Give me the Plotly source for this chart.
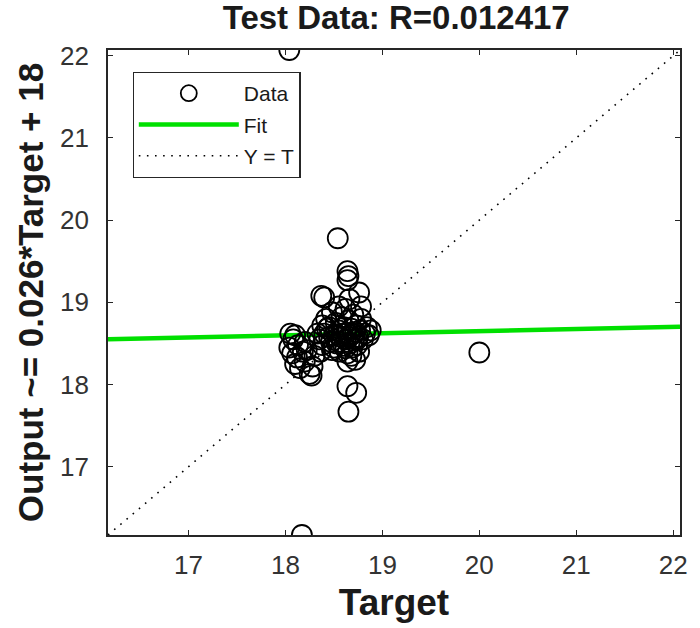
import plotly.graph_objects as go

# Network outputs against targets for the test set
target = [
    18.04, 18.17, 20.00,
    18.54, 18.64, 18.65, 18.64, 18.40, 18.37, 18.76, 18.66,
    18.64, 18.73, 18.65, 18.27, 18.64,
    18.05, 18.08, 18.10, 18.04, 18.07, 18.12, 18.10, 18.15,
    18.20, 18.18, 18.13, 18.22, 18.25, 18.28, 18.30, 18.20,
    18.35, 18.38, 18.40, 18.42, 18.45, 18.47, 18.48, 18.50,
    18.52, 18.53, 18.55, 18.56, 18.57, 18.58, 18.60, 18.60,
    18.62, 18.63, 18.64, 18.65, 18.66, 18.67, 18.68, 18.69,
    18.70, 18.71, 18.72, 18.73, 18.74, 18.75, 18.76, 18.77,
    18.78, 18.80, 18.82, 18.84, 18.86, 18.88, 18.45, 18.50,
    18.55, 18.58, 18.62, 18.66, 18.70, 18.74, 18.68, 18.72,
    18.43, 18.38, 18.33, 18.36, 18.62, 18.78, 18.48, 18.55,
]
output = [
    22.07, 16.17, 18.39,
    19.78, 19.38, 19.32, 19.27, 19.06, 19.08, 19.12, 19.04,
    17.98, 17.90, 17.67, 18.11, 18.28,
    18.62, 18.55, 18.60, 18.45, 18.38, 18.33, 18.25, 18.20,
    18.28, 18.40, 18.48, 18.42, 18.13, 18.22, 18.35, 18.52,
    18.55, 18.48, 18.62, 18.80, 18.70, 18.52, 18.42, 18.60,
    18.75, 18.50, 18.66, 18.40, 18.58, 18.82, 18.47, 18.70,
    18.55, 18.63, 18.38, 18.78, 18.50, 18.60, 18.68, 18.45,
    18.85, 18.55, 18.64, 18.72, 18.48, 18.58, 18.40, 18.66,
    18.80, 18.55, 18.62, 18.70, 18.60, 18.66, 18.58, 18.45,
    18.52, 18.62, 18.44, 18.58, 18.62, 18.55, 18.35, 18.30,
    18.68, 18.72, 18.62, 18.40, 18.92, 18.95, 18.88, 18.95,
]

# Linear fit reported in the axis label and correlation in the title
fit_slope = 0.026
fit_intercept = 18.13
r_value = 0.012417

axis_min = 16.17
axis_max = 22.07
tick_vals = [17, 18, 19, 20, 21, 22]

FONT = "Liberation Sans, Arial"

fig = go.Figure()

fit_x = [axis_min, axis_max]
fit_y = [fit_slope * v + fit_intercept for v in fit_x]

fig.add_trace(go.Scatter(
    x=fit_x, y=fit_y, mode="lines", name="Fit",
    line=dict(color="#00e000", width=4.5),
    legendrank=2, legendgroup="fit",
))
fig.add_trace(go.Scatter(
    x=[axis_min, axis_max], y=[axis_min, axis_max], mode="lines", name="Y = T",
    line=dict(color="black", width=1.6, dash="1.6px,6.5px"),
    legendrank=3, legendgroup="yt",
))
fig.add_trace(go.Scatter(
    x=target, y=output, mode="markers", name="Data",
    marker=dict(symbol="circle-open", size=20, color="black",
                line=dict(color="black", width=1.8)),
    legendrank=1, legendgroup="data",
))

axis_common = dict(
    range=[axis_min, axis_max],
    tickvals=tick_vals,
    ticks="inside", ticklen=5, tickwidth=1.2, tickcolor="#262626",
    showline=True, linecolor="#262626", linewidth=1.6, mirror="ticks",
    showgrid=False, zeroline=False,
    tickfont=dict(family=FONT, size=26, color="#333333"),
)

fig.update_layout(
    width=700, height=628,
    margin=dict(l=108, r=16, t=50, b=91),
    paper_bgcolor="white", plot_bgcolor="white",
    title=dict(
        text="<b>Test Data: R=%.6f</b>" % r_value,
        font=dict(family=FONT, size=33, color="#1a1a1a"),
        x=0.566, xanchor="center", y=0.972, yanchor="middle",
    ),
    xaxis=dict(
        **axis_common,
        ticklabelstandoff=6,
        title=dict(text="<b>Target</b>", standoff=10,
                   font=dict(family=FONT, size=37, color="#1a1a1a")),
    ),
    yaxis=dict(
        **axis_common,
        ticklabelstandoff=12,
        title=dict(text="<b>Output ~= %.3g*Target + %d</b>" % (fit_slope, round(fit_intercept)),
                   standoff=6,
                   font=dict(family=FONT, size=35, color="#1a1a1a")),
    ),
    legend=dict(
        x=0.043, y=0.955, xanchor="left", yanchor="top",
        bgcolor="white", bordercolor="#262626", borderwidth=1.2,
        font=dict(family=FONT, size=21, color="#1a1a1a"),
        itemwidth=100, tracegroupgap=1,
    ),
    showlegend=True,
)

fig.write_html("out.html")
